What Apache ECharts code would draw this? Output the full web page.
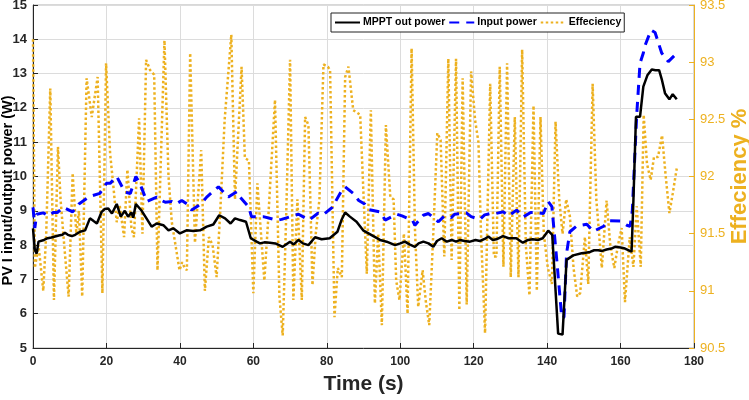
<!DOCTYPE html>
<html><head><meta charset="utf-8">
<script src="https://cdn.jsdelivr.net/npm/echarts@6/dist/echarts.min.js"></script>
<style>html,body{margin:0;padding:0;background:#fff}#c{width:749px;height:400px}</style>
</head><body><div id="c"></div>
<script>
const seriesNames = ['MPPT out power', 'Input power', 'Effeciency'];
const xTicks = [0, 20, 40, 60, 80, 100, 120, 140, 160, 180];

const mpptTime = [0,0.5,1,1.5,2,3,4,5,6,7,8,8.7,9.5,10.6,11.5,12.8,14.2,15.5,16.5,17.4,18.7,19.5,20.5,21.5,22.8,23.9,25,25.9,26.8,27.3,28,29.6,30.9,32.3,33.7,35.5,36.9,38.2,40,41.8,43.7,45.5,47.3,49.1,50.7,52.3,53.8,55,56.4,58,59.3,60.9,61.8,63,64.5,66,68,70,71,72.3,73.5,75,76.8,78.6,80.8,82.9,84,85,86.3,88.1,89.9,92.2,94.5,96.3,98.6,100,101.3,102.5,104,105,106.3,107.7,109,110,111.3,112.7,114,115.2,116.3,117.5,119,120.5,121.7,123,124,125.2,126.2,128,129.5,131.6,133.4,134.8,136.1,137.5,138.8,140.3,141.4,143.0,144.2,145.3,147.1,149.4,150.5,151.7,152.8,153.9,155,156.2,157.5,158.5,160,161.2,163,163.5,164.2,165.3,166.2,167.3,168.5,169.5,170.5,171.3,172.1,173.3,174.2,175.3];
const mpptPower = [8.49,7.86,7.75,8.1,8.1,8.15,8.2,8.22,8.25,8.28,8.3,8.36,8.3,8.26,8.3,8.39,8.43,8.78,8.7,8.63,8.97,9.05,9.07,8.92,9.2,8.83,9.0,8.83,8.95,8.8,9.2,9.0,8.78,8.54,8.63,8.58,8.43,8.49,8.34,8.43,8.41,8.43,8.54,8.6,8.87,8.78,8.63,8.78,8.73,8.68,8.2,8.1,8.05,8.08,8.07,8.05,7.95,8.1,8.02,8.15,8.05,8.0,8.23,8.17,8.2,8.39,8.73,8.95,8.83,8.68,8.43,8.29,8.15,8.1,8.0,8.05,8.1,8.02,7.95,8.05,8.1,8.05,7.95,8.12,8.2,8.1,8.15,8.1,8.15,8.12,8.1,8.15,8.12,8.18,8.25,8.15,8.17,8.26,8.2,8.2,8.07,8.15,8.17,8.15,8.2,8.42,8.3,5.42,5.39,7.57,7.7,7.76,7.78,7.8,7.85,7.85,7.83,7.87,7.9,7.95,7.93,7.9,7.81,9.3,11.74,11.74,12.62,12.95,13.12,13.1,13.1,12.8,12.43,12.25,12.4,12.25];

const inputTime = [0,0.5,1,2.8,4.3,5.5,6.6,8.3,10.8,12.5,15.3,18.2,20,21,22.8,25,26.5,28,29.1,31,33.7,35,36,37.8,39,40.5,42.3,43.2,45,46.3,47.3,50.5,53.2,55.5,56.4,58.7,59.5,62.7,66.3,67.7,71.3,72.3,75.2,77.6,79,81.5,84.1,85,87.3,88.7,90.3,91.3,94.5,95.9,99.1,100.5,103.3,104,106.3,107.7,110.4,112,113.9,114.8,118,119.3,121.7,123,124.5,126,128.1,129.5,131.7,133.5,135.5,137.6,139,140.3,141.3,142.6,144,144.6,145.3,146.2,148,150.8,152.6,155.4,157.1,159.9,161.7,162.6,163.2,164.4,165.3,166.2,166.7,168.3,169.4,171.2,173,174.8];
const inputPower = [9.1,8.5,8.9,8.94,8.85,8.95,8.95,9.1,8.97,9.2,9.41,9.51,9.8,9.8,10.0,9.55,9.5,10.0,9.8,9.27,9.4,9.3,9.25,9.27,9.2,9.3,9.17,9.02,9.15,9.27,9.4,9.7,9.4,9.56,9.4,9.12,8.83,8.83,8.73,8.75,8.87,8.9,8.73,8.93,8.88,9.1,9.6,9.7,9.5,9.3,9.2,9.04,8.97,8.73,8.9,8.85,8.73,8.58,8.87,8.92,8.68,8.85,8.8,8.9,8.94,8.83,8.75,8.88,8.92,8.92,8.97,8.85,9.02,8.82,8.95,8.94,8.92,9.27,9.12,7.6,5.87,5.9,7.76,8.39,8.55,8.61,8.4,8.55,8.71,8.7,8.58,8.55,9.0,11.8,13.3,13.6,13.83,14.27,14.2,13.6,13.35,13.54];

const effTime = [0,0.5,1.5,2.8,3.6,4.7,5.7,6.8,7.5,8.5,9.7,10.8,11.8,12.5,13.4,14.6,16.0,17.6,18.9,19.9,21.0,21.9,22.8,23.6,24.8,25.7,26.8,27.5,28.9,29.8,30.8,31.9,33.0,33.9,35.8,36.9,37.8,39.9,40.6,41.3,41.9,42.8,44.1,45.8,46.8,47.9,48.9,50.0,51.0,52.2,54.0,55.0,56.8,57.7,58.8,60.0,61.1,63.0,64.0,65.9,67.1,68.0,68.9,70.0,70.9,72.0,73.2,74.1,75.0,76.1,77.0,78.0,79.1,80.3,80.9,82.1,83.0,84.1,85.0,85.9,87.2,89.1,90.9,92.0,93.1,94.0,95.0,96.1,97.3,98.2,98.9,99.8,101.0,102.0,103.1,104.0,104.9,106.1,107.0,107.9,109.0,110.1,111.0,112.0,113.1,114.0,115.2,116.1,117.0,118.1,119.3,120.4,121.3,122.0,123.1,124.5,125.5,126.2,127.1,128.1,129.1,130.1,131.2,132.2,133.2,134.2,135.2,136.3,137.2,138.2,139.1,140.2,141.3,142.3,143.3,144.2,145.2,146.2,147.2,148.2,149.0,150.3,151.2,152.4,153.4,154.9,156.2,157.2,158.3,159.3,160.3,161.2,162.5,163.5,164.4,165.5,166.3,167.2,168.2,169.1,170.2,171.3,172.3,173.3,174.2,175.3];
const effValue = [93.2,91.2,91.4,91.0,91.5,92.77,90.92,92.26,91.8,91.4,90.95,92.03,91.5,91.7,90.95,92.86,92.52,92.87,90.98,92.99,92.2,91.91,91.6,91.75,91.47,92.06,91.55,91.47,92.51,91.5,93.02,92.93,92.89,91.18,93.19,92.0,91.6,91.18,91.25,91.2,91.18,93.08,91.42,92.23,91.0,91.47,91.4,91.12,91.7,92.5,93.24,91.8,92.96,92.16,92.14,90.98,91.94,91.09,91.6,92.67,90.95,90.61,91.6,93.02,90.92,91.8,90.92,92.52,92.45,91.05,91.5,91.8,92.98,92.96,92.93,90.77,91.2,91.12,92.87,92.96,92.58,92.54,91.15,92.58,90.89,91.5,90.70,92.45,91.82,91.8,91.09,90.92,91.5,90.8,93.12,91.55,90.86,91.18,90.9,90.70,91.5,92.38,92.32,91.3,93.03,91.27,93.03,90.83,92.86,90.88,92.92,92.49,92.3,91.5,90.63,92.81,91.3,91.3,92.96,91.21,92.99,91.12,92.52,91.12,93.11,91.4,90.96,92.62,91.0,92.52,91.5,91.2,91.06,92.48,91.8,91.5,91.8,91.65,91.2,90.95,90.98,91.47,91.06,92.81,91.8,91.2,91.79,91.4,91.2,91.4,91.55,90.9,91.47,91.21,91.74,91.21,92.54,92.11,91.97,92.17,92.17,92.36,92.0,91.68,91.85,92.07];

const zip = (a, b) => a.map((v, i) => [v, b[i]]);
const ORANGE = '#EDB120';
const FONT = 'Liberation Sans, Arial, sans-serif';

const chart = echarts.init(document.getElementById('c'), null, {renderer: 'canvas'});
chart.setOption({
  animation: false,
  backgroundColor: '#fff',
  grid: {left: 33, right: 55, top: 5, bottom: 52, containLabel: false, outerBoundsMode: 'none',
         show: true, borderColor: '#b0b0b0', borderWidth: 1},
  legend: {
    left: 331, top: 13,
    data: seriesNames,
    borderColor: '#222', borderWidth: 1, padding: [4, 3, 4, 3],
    backgroundColor: '#fff',
    itemWidth: 25, itemHeight: 10, itemGap: 3,
    itemStyle: {opacity: 0},
    textStyle: {fontFamily: FONT, fontWeight: 'bold', fontSize: 10.5, color: '#000', padding: [0, 0, 0, -2]}
  },
  xAxis: {
    type: 'value', min: 0, max: 180, interval: 20,
    name: 'Time (s)', nameLocation: 'middle', nameGap: 26, nameMoveOverlap: false,
    nameTextStyle: {fontFamily: FONT, fontWeight: 'bold', fontSize: 21, color: '#262626'},
    axisLine: {lineStyle: {color: '#262626', width: 1}},
    axisTick: {inside: true, length: 5, lineStyle: {color: '#262626'}},
    axisLabel: {fontFamily: FONT, fontWeight: 'bold', fontSize: 12, color: '#262626', margin: 8},
    splitLine: {lineStyle: {color: '#dcdcdc', width: 1}}
  },
  yAxis: [{
    type: 'value', min: 5, max: 15, interval: 1, position: 'left',
    name: 'PV I input/output power (W)', nameLocation: 'middle', nameGap: 18, nameMoveOverlap: false,
    nameTextStyle: {fontFamily: FONT, fontWeight: 'bold', fontSize: 14.5, color: '#000', padding: [0, 28, 0, 0]},
    axisLine: {show: true, lineStyle: {color: '#262626', width: 1}},
    axisTick: {show: true, inside: true, length: 5, lineStyle: {color: '#262626'}},
    axisLabel: {fontFamily: FONT, fontWeight: 'bold', fontSize: 13, color: '#262626', margin: 6},
    splitLine: {lineStyle: {color: '#dcdcdc', width: 1}}
  }, {
    type: 'value', min: 90.5, max: 93.5, interval: 0.5, position: 'right',
    name: 'Effeciency %', nameLocation: 'middle', nameGap: 35, nameRotate: 90, nameMoveOverlap: false,
    nameTextStyle: {fontFamily: FONT, fontWeight: 'bold', fontSize: 22, color: ORANGE},
    axisLine: {show: true, lineStyle: {color: ORANGE, width: 1}},
    axisTick: {show: true, inside: true, length: 5, lineStyle: {color: ORANGE}},
    axisLabel: {fontFamily: FONT, fontSize: 13, color: ORANGE, margin: 6},
    splitLine: {show: false}
  }],
  series: [{
    name: seriesNames[0], type: 'line', yAxisIndex: 0, symbol: 'none', z: 4,
    data: zip(mpptTime, mpptPower),
    itemStyle: {color: '#000'},
    lineStyle: {color: '#000', width: 2.5}
  }, {
    name: seriesNames[1], type: 'line', yAxisIndex: 0, symbol: 'none', z: 3,
    data: zip(inputTime, inputPower),
    itemStyle: {color: '#0000FF'},
    lineStyle: {color: '#0000FF', width: 3, type: [10, 7]}
  }, {
    name: seriesNames[2], type: 'line', yAxisIndex: 1, symbol: 'none', z: 2,
    data: zip(effTime, effValue),
    itemStyle: {color: ORANGE},
    lineStyle: {color: ORANGE, width: 2.5, type: [2.5, 2.5]}
  }]
});
</script></body></html>
